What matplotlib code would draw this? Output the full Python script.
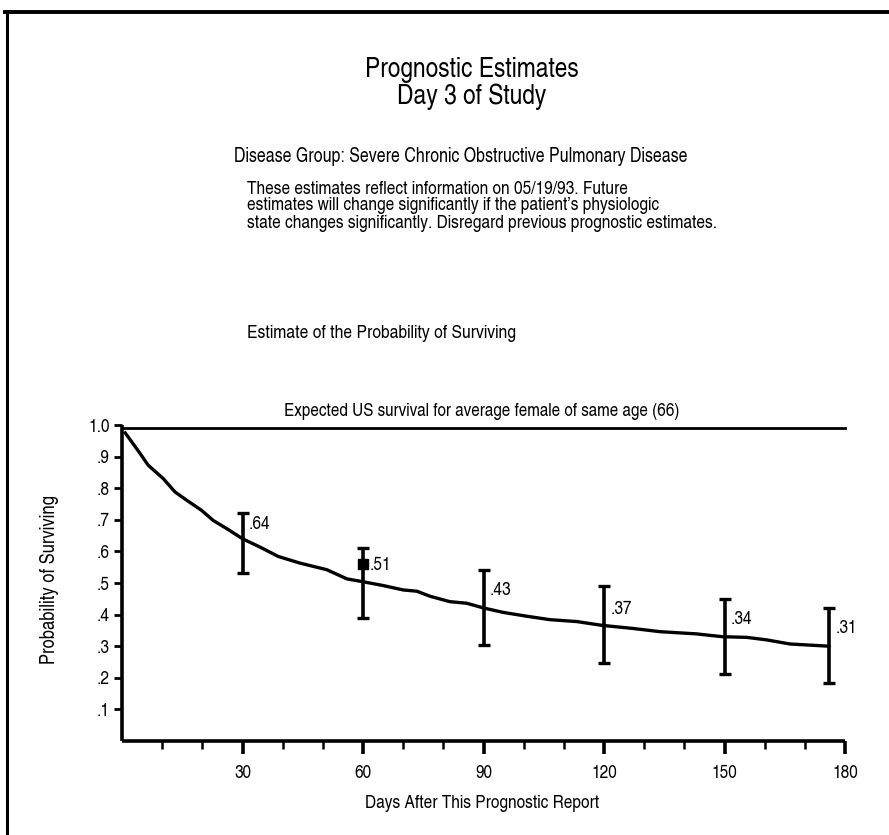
import matplotlib
matplotlib.use("Agg")
import matplotlib.pyplot as plt
from matplotlib.lines import Line2D

plt.rcParams['font.family'] = ['TeX Gyre Heros Cn', 'Roboto Condensed', 'DejaVu Sans']

# ---- data ----
curve_days = [0.8, 2.4, 4.5, 6.5, 10.3, 13.2, 16.1, 19.8, 22.7, 26.1, 30, 34.3, 38.9, 44.3,
              51, 56, 60, 65, 70, 73.4, 76.7, 81.6, 85.8, 90, 94.9, 100.7, 106.5, 113.2,
              119.5, 127.3, 133.9, 143, 149.5, 155.5, 160.5, 166.3, 176]
curve_vals = [0.975, 0.947, 0.91, 0.873, 0.83, 0.788, 0.762, 0.73, 0.698, 0.672, 0.64, 0.614,
              0.584, 0.563, 0.542, 0.513, 0.504, 0.492, 0.478, 0.474, 0.458, 0.441, 0.436,
              0.421, 0.407, 0.395, 0.384, 0.378, 0.366, 0.356, 0.346, 0.339, 0.33, 0.328,
              0.32, 0.307, 0.30]

est_days = [30, 60, 90, 120, 150, 176]
est_vals = [0.64, 0.51, 0.43, 0.37, 0.34, 0.31]
est_labels = ['.64', '.51', '.43', '.37', '.34', '.31']
ci_low = [0.533, 0.39, 0.304, 0.248, 0.213, 0.184]
ci_high = [0.723, 0.61, 0.54, 0.49, 0.45, 0.42]
curve_at_est = [0.64, 0.504, 0.421, 0.366, 0.33, 0.30]

prev_day = [60]
prev_val = [0.56]

expected_us = 0.99

x_major = [30, 60, 90, 120, 150, 180]
x_minor = [10, 20, 40, 50, 70, 80, 100, 110, 130, 140, 160, 170]
y_ticks = [0.1, 0.2, 0.3, 0.4, 0.5, 0.6, 0.7, 0.8, 0.9, 1.0]
y_ticklabels = ['.1', '.2', '.3', '.4', '.5', '.6', '.7', '.8', '.9', '1.0']

W, H = 889, 835
fig = plt.figure(figsize=(W / 100, H / 100), dpi=100)

def fx(x):
    return x / W

def fy(y):
    return 1 - y / H

ax = fig.add_axes([fx(122), fy(741), fx(845) - fx(122), fy(425) - fy(741)])

# frame lines of the page
fig.add_artist(Line2D([fx(5), 1.0], [fy(12), fy(12)], color='black', lw=2.8))
fig.add_artist(Line2D([fx(7), fx(7)], [fy(11), 0.0], color='black', lw=2.2))

# curve
ax.plot(curve_days, curve_vals, color='black', lw=2.4, solid_joinstyle='round')

# expected US survival line
ax.plot([0, 180], [expected_us, expected_us], color='black', lw=2.0, clip_on=False)

# error bars
yerr = [[c - l for c, l in zip(curve_at_est, ci_low)], [h - c for c, h in zip(curve_at_est, ci_high)]]
ax.errorbar(est_days, curve_at_est, yerr=yerr, fmt='none', ecolor='black', elinewidth=2.6,
            capsize=4, capthick=2.4)

# previous estimate marker
ax.plot(prev_day, prev_val, marker='s', color='black', markersize=6.5, linestyle='none')

for d, v, lab in zip(est_days, est_vals, est_labels):
    ax.text(d + 1.6, v + 0.045, lab, fontsize=13.5, va='center', ha='left')

ax.set_xlim(0, 180)
ax.set_ylim(0, 1.0)
for s in ['top', 'right']:
    ax.spines[s].set_visible(False)
for s in ['left', 'bottom']:
    ax.spines[s].set_linewidth(2.6)
    ax.spines[s].set_capstyle('butt')

ax.set_xticks(x_major)
ax.set_xticklabels([str(v) for v in x_major], fontsize=13.5)
ax.set_xticks(x_minor, minor=True)
ax.tick_params(axis='x', which='major', direction='out', length=9, width=2.6, pad=8)
ax.tick_params(axis='x', which='minor', direction='out', length=6, width=1.8)
ax.set_yticks(y_ticks)
ax.set_yticklabels(y_ticklabels, fontsize=13.5)
ax.tick_params(axis='y', which='major', direction='out', length=6, width=2.0, pad=3)

# texts
fig.text(fx(472), fy(70), 'Prognostic Estimates', fontsize=20, ha='center', va='center')
fig.text(fx(472), fy(97), 'Day 3 of Study', fontsize=20, ha='center', va='center')
fig.text(fx(234), fy(157), 'Disease Group: Severe Chronic Obstructive Pulmonary Disease',
         fontsize=14, ha='left', va='center')
para = ["These estimates reflect information on 05/19/93. Future",
        "estimates will change significantly if the patient\u2019s physiologic",
        "state changes significantly. Disregard previous prognostic estimates."]
for i, line in enumerate(para):
    fig.text(fx(247), fy(189 + 17 * i), line, fontsize=13.6, ha='left', va='center')
fig.text(fx(247), fy(334), 'Estimate of the Probability of Surviving', fontsize=13.8,
         ha='left', va='center')
fig.text(fx(482), fy(412), 'Expected US survival for average female of same age (66)',
         fontsize=13.4, ha='center', va='center')
fig.text(fx(50), fy(580), 'Probability of Surviving', fontsize=14.5, rotation=90,
         ha='center', va='center')
fig.text(fx(482), fy(803), 'Days After This Prognostic Report', fontsize=13.6,
         ha='center', va='center')

fig.savefig('out.png', dpi=100, facecolor='white')
